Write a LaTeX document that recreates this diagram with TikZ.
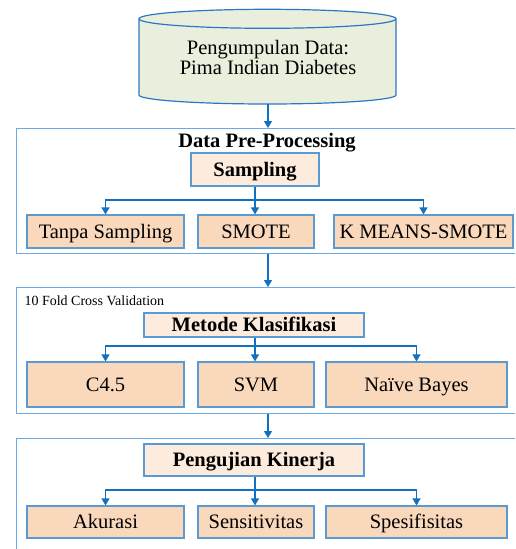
\documentclass[tikz,border=0pt]{standalone}
\usepackage{fontspec}
\setmainfont{Liberation Serif}
\usetikzlibrary{arrows.meta,calc}
\definecolor{conn}{HTML}{1170C0}
\definecolor{bord}{HTML}{5A9AD2}
\definecolor{framec}{HTML}{6AAAE0}
\definecolor{rowfill}{HTML}{F9D8BC}
\definecolor{headfill}{HTML}{FDEBDD}
\definecolor{cylfill}{HTML}{E9EFDC}
\definecolor{cylbord}{HTML}{2B78C2}
\tikzset{
  rowbox/.style={draw=bord, line width=1.1pt, fill=rowfill, inner sep=0pt,
    text height=16pt, text depth=2.4pt,
    font=\fontsize{20.5}{22}\selectfont},
  headbox/.style={draw=bord, line width=1.1pt, fill=headfill, inner sep=0pt,
    text height=16pt, text depth=2.4pt,
    font=\fontsize{20.5}{22}\selectfont\bfseries},
  framebox/.style={draw=framec, line width=1.3pt, inner sep=0pt, anchor=north west},
  arr/.style={draw=conn, line width=1.1pt, -{Triangle[width=8pt,length=7pt]}},
  plain/.style={draw=conn, line width=1.1pt}
}
\begin{document}
\begin{tikzpicture}[x=1pt,y=-1pt]
\useasboundingbox (0,0) rectangle (515,549);
\clip (0,0) rectangle (515,549);
% cylinder
\path[fill=cylfill, draw=cylbord, line width=1.2pt]
  (139,18.8) -- (139,95) arc[start angle=180, end angle=360, x radius=128.5, y radius=-9]
  -- (396,18.8) arc[start angle=0, end angle=180, x radius=128.5, y radius=-9.5] -- cycle;
\draw[cylbord, line width=1.2pt] (139,18.8) arc[start angle=180, end angle=360, x radius=128.5, y radius=-9.5];
\node[align=center, font=\fontsize{20.5}{20}\selectfont] (data) at (268,57)
  {Pengumpulan Data:\\Pima Indian Diabetes};
\coordinate (cylb) at (268,104);

% frames
\node[framebox, minimum width=540pt, minimum height=125pt] (f1) at (16,128) {};
\node[framebox, minimum width=540pt, minimum height=126pt] (f2) at (16,287) {};
\node[framebox, minimum width=540pt, minimum height=140pt] (f3) at (16,438) {};

% frame 1 content
\node[font=\fontsize{20.5}{22}\selectfont\bfseries, inner sep=0pt, text height=16pt, text depth=2.4pt] (title) at (267,141) {Data Pre-Processing};
\node[headbox, minimum width=128pt, minimum height=33pt] (samp) at (255,169.5) {Sampling};
\node[rowbox, minimum width=157pt, minimum height=33pt] (tanpa) at (105.5,231.5) {Tanpa Sampling};
\node[rowbox, minimum width=116pt, minimum height=33pt] (smote) at (256,231.5) {SMOTE};
\node[rowbox, minimum width=179pt, minimum height=33pt] (kmeans) at (423.5,231.5) {K MEANS-SMOTE};

% frame 2 content
\node[anchor=west, font=\fontsize{14}{16}\selectfont] (cv) at (21,301) {10 Fold Cross Validation};
\node[headbox, minimum width=220pt, minimum height=24pt] (metode) at (254,325) {Metode Klasifikasi};
\node[rowbox, minimum width=157pt, minimum height=45pt] (c45) at (105.5,384.5) {C4.5};
\node[rowbox, minimum width=116pt, minimum height=45pt] (svm) at (256,384.5) {SVM};
\node[rowbox, minimum width=181pt, minimum height=45pt] (nb) at (416.5,384.5) {Naïve Bayes};

% frame 3 content
\node[headbox, minimum width=220pt, minimum height=32pt] (uji) at (254,460) {Pengujian Kinerja};
\node[rowbox, minimum width=157pt, minimum height=32pt] (akur) at (105.5,522) {Akurasi};
\node[rowbox, minimum width=116pt, minimum height=32pt] (sens) at (256,522) {Sensitivitas};
\node[rowbox, minimum width=181pt, minimum height=32pt] (spes) at (416.5,522) {Spesifisitas};

% main flow arrows
\draw[arr] (cylb) -- (cylb |- f1.north);
\draw[arr] (data |- f1.south) -- (data |- f2.north);
\draw[arr] (data |- f2.south) -- (data |- f3.north);

% trees
\coordinate (j1) at (255,200);
\draw[plain] (samp.south) -- (j1);
\draw[arr] (j1) -- (j1 |- smote.north);
\draw[arr] (j1) -| (tanpa.north);
\draw[arr] (j1) -| (kmeans.north);

\coordinate (j2) at (255,346);
\draw[plain] (metode.south -| j2) -- (j2);
\draw[arr] (j2) -- (j2 |- svm.north);
\draw[arr] (j2) -| (c45.north);
\draw[arr] (j2) -| (nb.north);

\coordinate (j3) at (255,490);
\draw[plain] (uji.south -| j3) -- (j3);
\draw[arr] (j3) -- (j3 |- sens.north);
\draw[arr] (j3) -| (akur.north);
\draw[arr] (j3) -| (spes.north);
\end{tikzpicture}
\end{document}
